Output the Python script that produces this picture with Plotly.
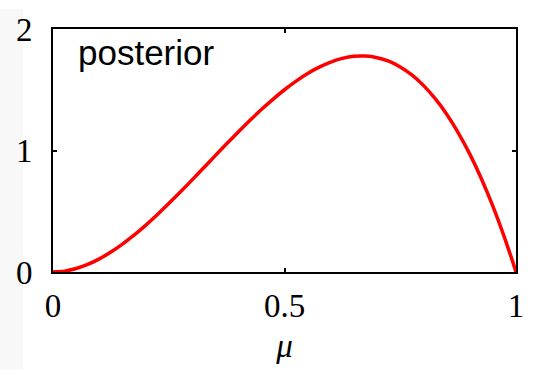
import plotly.graph_objects as go

# Posterior density over mu, sampled along the unit interval
mu = [0.0, 0.025, 0.05, 0.075, 0.1, 0.125, 0.15, 0.175, 0.2, 0.225, 0.25,
      0.275, 0.3, 0.325, 0.35, 0.375, 0.4, 0.425, 0.45, 0.475, 0.5,
      0.525, 0.55, 0.575, 0.6, 0.625, 0.65, 0.675, 0.7, 0.725, 0.75,
      0.775, 0.8, 0.825, 0.85, 0.875, 0.9, 0.925, 0.95, 0.975, 0.99, 1.0]
density = [0.0, 0.007, 0.029, 0.062, 0.108, 0.164, 0.230, 0.303, 0.384, 0.471, 0.563,
           0.658, 0.756, 0.856, 0.956, 1.055, 1.152, 1.246, 1.337, 1.421, 1.500,
           1.571, 1.634, 1.686, 1.728, 1.758, 1.775, 1.777, 1.764, 1.735, 1.688,
           1.622, 1.536, 1.429, 1.301, 1.148, 0.972, 0.770, 0.542, 0.285, 0.118, 0.0]

x_ticks = [0, 0.5, 1]
x_tick_labels = ["0", "0.5", "1"]
y_ticks = [0, 1, 2]
y_tick_labels = ["0", "1", "2"]

serif = "Liberation Serif"
sans = "Liberation Sans"

fig = go.Figure()
fig.add_trace(go.Scatter(
    x=mu, y=density, mode="lines",
    line=dict(color="#ff0000", width=3.5, shape="spline", smoothing=0.5),
    hoverinfo="skip", showlegend=False,
))

axis_common = dict(
    showline=True, linecolor="black", linewidth=2, mirror="ticks",
    ticks="inside", ticklen=4, tickwidth=2, tickcolor="black",
    showgrid=False, zeroline=False,
    tickfont=dict(family=serif, size=33, color="black"),
)

fig.update_xaxes(
    range=[0, 1], tickvals=x_ticks, ticktext=x_tick_labels,
    ticklabelstandoff=3,
    title=dict(text="<i>μ</i>", font=dict(family=serif, size=33, color="black"),
               standoff=11),
    **axis_common,
)
fig.update_yaxes(
    range=[0, 2], tickvals=y_ticks, ticktext=y_tick_labels,
    ticklabelstandoff=12,
    **axis_common,
)

fig.add_annotation(
    text="posterior", xref="paper", yref="paper",
    x=0.05, y=0.905, xanchor="left", yanchor="middle",
    showarrow=False, font=dict(family=sans, size=35, color="black"),
)

# light strip along the left edge of the page
fig.add_shape(
    type="rect", xref="paper", yref="paper",
    x0=-53 / 465, x1=-30 / 465, y0=-101 / 251, y1=1 + 21 / 251,
    fillcolor="#f8f8f8", line=dict(width=0), layer="below",
)

fig.update_layout(
    width=536, height=373,
    margin=dict(l=53, r=18, t=21, b=101),
    paper_bgcolor="white", plot_bgcolor="white",
)

fig.write_html("out.html")
